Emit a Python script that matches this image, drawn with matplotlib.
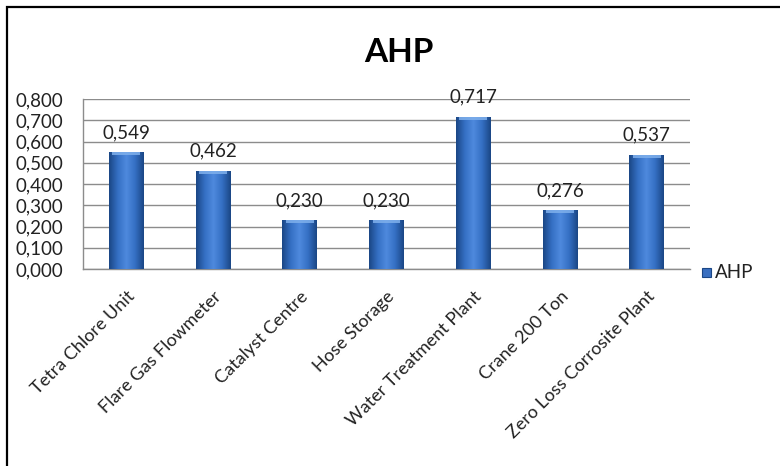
import numpy as np
import matplotlib
matplotlib.use("Agg")
import matplotlib.pyplot as plt
from matplotlib.patches import Rectangle
from matplotlib.colors import LinearSegmentedColormap
from matplotlib.transforms import ScaledTranslation

plt.rcParams['font.family'] = ['Lato', 'DejaVu Sans']

categories = ["Tetra Chlore Unit", "Flare Gas Flowmeter", "Catalyst Centre",
              "Hose Storage", "Water Treatment Plant", "Crane 200 Ton",
              "Zero Loss Corrosite Plant"]
values = [0.549, 0.462, 0.230, 0.230, 0.717, 0.276, 0.537]
series_name = "AHP"
yticks = [0.0, 0.1, 0.2, 0.3, 0.4, 0.5, 0.6, 0.7, 0.8]

W, H = 780, 466
fig = plt.figure(figsize=(W / 100, H / 100), dpi=100)
fig.patch.set_facecolor("white")

# outer chart frame
fig.add_artist(Rectangle((7 / W, -0.05), 1.2, 1 - 7 / H + 0.05,
                         transform=fig.transFigure, fill=False,
                         edgecolor="black", linewidth=1.6))

ax = fig.add_axes([83 / W, 1 - 269 / H, (690 - 83) / W, (269 - 99) / H])
x = np.arange(len(categories))
bar_w = 0.40
bars = ax.bar(x, values, width=bar_w, color="#3a6fc0", zorder=2)

# shaded cylinder-like fill for each bar
cmap = LinearSegmentedColormap.from_list(
    "bevel", ["#1b4786", "#3570c4", "#4f8ade", "#3570c4", "#1b4786"])
grad = np.linspace(0, 1, 64).reshape(1, -1)
for b in bars:
    x0, w, h = b.get_x(), b.get_width(), b.get_height()
    im = ax.imshow(grad, cmap=cmap, aspect="auto",
                   extent=[x0, x0 + w, 0, h], zorder=3)
    im.set_clip_path(b)
    cap = 0.014
    ax.add_patch(Rectangle((x0 + w * 0.1, h - cap), w * 0.8, cap,
                           facecolor="#7fb0ec", edgecolor="none",
                           zorder=4, alpha=0.85))

fs = 13.5
for xi, v in zip(x, values):
    ax.annotate(f"{v:.3f}".replace(".", ","), (xi, v), xytext=(0, 8),
                textcoords="offset points", ha="center", va="bottom",
                fontsize=fs, color="#222222")

ax.set_xlim(-0.5, len(categories) - 0.5)
ax.set_ylim(0, 0.8)
ax.set_yticks(yticks)
ax.set_yticklabels([f"{t:.3f}".replace(".", ",") for t in yticks],
                   fontsize=fs, color="#222222")
ax.set_xticks(x)
ax.set_xticklabels(categories, rotation=45, ha="right",
                   rotation_mode="anchor", fontsize=13, color="#222222")
shift = ScaledTranslation(-4 / 100, 0, fig.dpi_scale_trans)
for lbl in ax.get_xticklabels():
    lbl.set_transform(lbl.get_transform() + shift)
ax.tick_params(axis="both", length=0)
ax.tick_params(axis="y", pad=14)
ax.tick_params(axis="x", pad=14)
ax.grid(axis="y", color="#8c8c8c", linewidth=1.0, zorder=0)
ax.set_axisbelow(True)
for s in ["top", "right"]:
    ax.spines[s].set_visible(False)
for s in ["left", "bottom"]:
    ax.spines[s].set_color("#8c8c8c")
    ax.spines[s].set_linewidth(1.0)

fig.text(399 / W, 1 - 53 / H, series_name, ha="center", va="center",
         fontsize=24, fontweight="bold", color="black")

# legend
fig.add_artist(Rectangle((702 / W, 1 - 277 / H), 9 / W, 9 / H,
                         transform=fig.transFigure, facecolor="#3a6fc0",
                         edgecolor="#1b4786", linewidth=0.8))
fig.text(715 / W, 1 - 272 / H, series_name, ha="left", va="center",
         fontsize=fs, color="#222222")

fig.savefig("out.png", dpi=100, facecolor="white")
